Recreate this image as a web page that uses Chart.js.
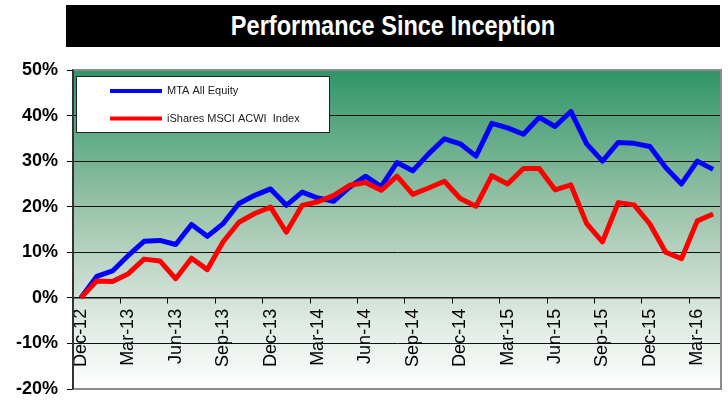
<!DOCTYPE html>
<html lang="en">
<head>
  <meta charset="UTF-8" />
  <title>Performance Since Inception</title>
  <script src="https://cdn.jsdelivr.net/npm/chart.js"></script>
  <style>
    body {
      margin: 0;
      background: #fff;
      font-family: Arial, "Liberation Sans", sans-serif;
    }
    .wrap {
      position: relative;
      width: 728px;
      height: 402px;
    }
    .title-bar {
      position: absolute;
      left: 66px;
      top: 5px;
      width: 654px;
      height: 42px;
      background: #000;
      color: #fff;
      display: flex;
      align-items: center;
      justify-content: center;
      font-family: Arial, "Liberation Sans", sans-serif;
      font-weight: bold;
      font-size: 28px;
      z-index: 2;
    }
    .title-bar span {
      display: inline-block;
      transform: scaleX(0.84);
    }
    canvas {
      position: absolute;
      left: 0;
      top: 0;
    }
  </style>
</head>
<body>
  <div class="wrap">
    <div class="title-bar"><span>Performance Since Inception</span></div>
    <canvas id="perfChart" width="728" height="402"></canvas>
  </div>

  <script>
    // monthly categories, Dec-12 .. Apr-16
    const months = [
      'Dec-12', 'Jan-13', 'Feb-13', 'Mar-13', 'Apr-13', 'May-13', 'Jun-13', 'Jul-13', 'Aug-13', 'Sep-13',
      'Oct-13', 'Nov-13', 'Dec-13', 'Jan-14', 'Feb-14', 'Mar-14', 'Apr-14', 'May-14', 'Jun-14', 'Jul-14',
      'Aug-14', 'Sep-14', 'Oct-14', 'Nov-14', 'Dec-14', 'Jan-15', 'Feb-15', 'Mar-15', 'Apr-15', 'May-15',
      'Jun-15', 'Jul-15', 'Aug-15', 'Sep-15', 'Oct-15', 'Nov-15', 'Dec-15', 'Jan-16', 'Feb-16', 'Mar-16',
      'Apr-16'
    ];

    // cumulative return in %
    const mtaAllEquity = [
      0, 4.7, 5.9, 9.3, 12.4, 12.6, 11.7, 16.1, 13.5, 16.3,
      20.7, 22.5, 23.9, 20.3, 23.2, 21.9, 21.2, 24.3, 26.7, 24.4,
      29.7, 27.9, 31.6, 34.9, 33.8, 31.1, 38.3, 37.3, 35.9, 39.6,
      37.6, 40.9, 33.8, 30.0, 34.1, 33.9, 33.2, 28.6, 25.0, 30.0,
      28.2
    ];
    const msciAcwi = [
      0, 3.7, 3.6, 5.3, 8.5, 8.1, 4.2, 8.7, 6.2, 12.3,
      16.6, 18.5, 19.9, 14.4, 20.3, 21.1, 22.5, 24.7, 25.3, 23.6,
      26.7, 22.7, 24.1, 25.6, 21.8, 20.1, 26.8, 25.0, 28.4, 28.4,
      23.7, 24.8, 16.3, 12.3, 20.9, 20.4, 16.2, 10.0, 8.6, 16.9,
      18.4
    ];

    const seriesNames = ['MTA All Equity', 'iShares MSCI ACWI  Index'];
    const yTicks = [-20, -10, 0, 10, 20, 30, 40, 50];

    // green gradient behind the plot + grey frame
    const plotBackground = {
      id: 'plotBackground',
      beforeDraw(chart) {
        const { ctx, chartArea: a } = chart;
        const g = ctx.createLinearGradient(0, a.top, 0, a.bottom);
        g.addColorStop(0, '#2f9566');
        g.addColorStop(0.45, '#9ec5ad');
        g.addColorStop(0.72, '#d3e3d9');
        g.addColorStop(1, '#ffffff');
        ctx.save();
        ctx.fillStyle = g;
        ctx.fillRect(a.left, a.top, a.right - a.left, a.bottom - a.top);
        ctx.restore();
      },
      afterDraw(chart) {
        const { ctx, chartArea: a } = chart;
        ctx.save();
        ctx.strokeStyle = '#8c8c8c';
        ctx.lineWidth = 2;
        ctx.beginPath();
        ctx.moveTo(a.left, a.top);
        ctx.lineTo(a.right, a.top);
        ctx.lineTo(a.right, a.bottom);
        ctx.lineTo(a.left, a.bottom);
        ctx.stroke();
        ctx.strokeStyle = '#333';
        ctx.beginPath();
        ctx.moveTo(a.left, a.top);
        ctx.lineTo(a.left, a.bottom);
        ctx.stroke();
        ctx.restore();
      }
    };

    // boxed legend in the top-left corner of the plot
    const boxLegend = {
      id: 'boxLegend',
      afterDraw(chart) {
        const { ctx, chartArea: a } = chart;
        const x = a.left + 3, y = a.top + 6, w = 253, h = 56;
        ctx.save();
        ctx.fillStyle = '#fff';
        ctx.fillRect(x, y, w, h);
        ctx.strokeStyle = '#222';
        ctx.lineWidth = 1;
        ctx.strokeRect(x + 0.5, y + 0.5, w, h);
        ctx.font = '11px Arial';
        ctx.textBaseline = 'middle';
        chart.data.datasets.forEach((ds, i) => {
          const ly = y + 15 + i * 27.5;
          ctx.strokeStyle = ds.borderColor;
          ctx.lineWidth = 4;
          ctx.beginPath();
          ctx.moveTo(x + 34, ly);
          ctx.lineTo(x + 86, ly);
          ctx.stroke();
          ctx.fillStyle = '#222';
          ctx.fillText(ds.label, x + 91, ly);
        });
        ctx.restore();
      }
    };

    new Chart(document.getElementById('perfChart'), {
      type: 'line',
      data: {
        labels: months,
        datasets: [{
          label: seriesNames[0],
          data: mtaAllEquity,
          borderColor: '#0000ff',
          backgroundColor: '#0000ff',
          borderWidth: 5,
          pointRadius: 0,
          tension: 0,
          borderJoinStyle: 'round',
          order: 1
        }, {
          label: seriesNames[1],
          data: msciAcwi,
          borderColor: '#ff0000',
          backgroundColor: '#ff0000',
          borderWidth: 5,
          pointRadius: 0,
          tension: 0,
          borderJoinStyle: 'round',
          order: 0
        }]
      },
      options: {
        responsive: false,
        animation: false,
        layout: {
          padding: { left: 0, top: 70, right: 7, bottom: 13 }
        },
        scales: {
          x: {
            position: { y: 0 },
            offset: true,
            afterFit: scale => { scale.paddingLeft = 0; scale.paddingRight = 0; },
            grid: {
              offset: true,
              drawOnChartArea: false,
              tickLength: 5,
              tickColor: ctx => ctx.index % 3 === 0 ? '#000' : 'rgba(0,0,0,0)'
            },
            border: { color: '#111', width: 1.5 },
            ticks: {
              autoSkip: false,
              minRotation: 90,
              maxRotation: 90,
              padding: 6,
              color: '#000',
              font: { family: 'Arial', size: 18 },
              callback: (val, idx) => idx % 3 === 0 ? months[idx] : ''
            }
          },
          y: {
            min: yTicks[0],
            max: yTicks[yTicks.length - 1],
            afterFit: scale => {
              scale.width = 73;
              scale.paddingTop = 0;
              scale.paddingBottom = 0;
            },
            afterBuildTicks: scale => { scale.ticks = yTicks.map(v => ({ value: v })); },
            grid: {
              color: ctx => {
                const v = ctx.tick && ctx.tick.value;
                return (v === 0 || v === 50 || v === -20) ? 'rgba(0,0,0,0)' : '#111';
              },
              lineWidth: 1,
              borderDash: [1, 1],
              tickLength: 6,
              tickColor: '#000',
              tickBorderDash: []
            },
            border: { color: '#333', width: 2 },
            ticks: {
              padding: 9,
              color: '#000',
              font: { family: 'Arial', size: 18, weight: 'bold' },
              callback: v => v + '%'
            }
          }
        },
        plugins: {
          legend: { display: false },
          tooltip: { enabled: false }
        }
      },
      plugins: [plotBackground, boxLegend]
    });
  </script>
</body>
</html>
